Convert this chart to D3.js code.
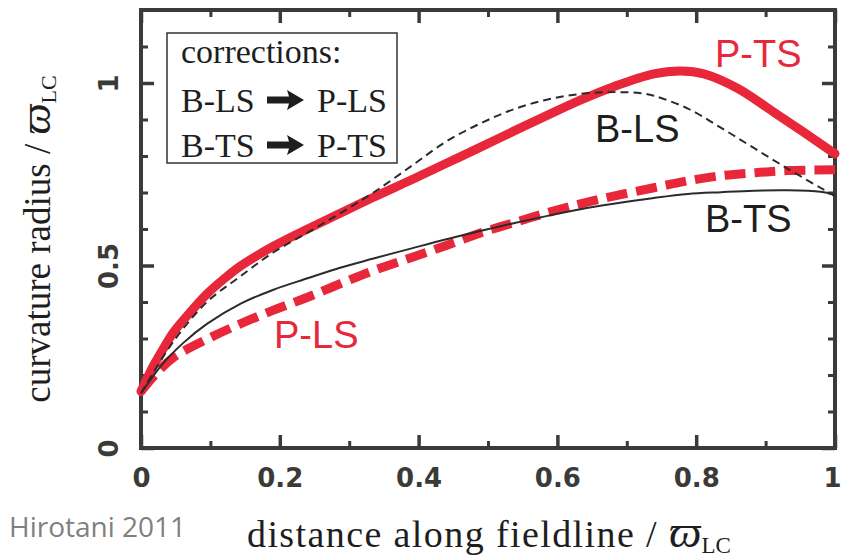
<!DOCTYPE html>
<html>
<head>
<meta charset="utf-8">
<script src="https://cdn.jsdelivr.net/npm/d3@7"></script>
<style>
  html, body { margin: 0; padding: 0; background: #fff; }
  svg { display: block; }
</style>
</head>
<body>
<svg id="chart" width="843" height="558"></svg>
<script>
// Curvature radius along the fieldline for four field geometries
const ptsX = [0, 0.015, 0.03, 0.046, 0.07, 0.095, 0.12, 0.143, 0.19, 0.24, 0.287, 0.335, 0.39, 0.44, 0.49, 0.537, 0.586, 0.633, 0.681, 0.739, 0.778, 0.811, 0.86, 0.908, 0.955, 1.0];
const ptsY = [0.155, 0.215, 0.265, 0.315, 0.37, 0.422, 0.464, 0.498, 0.552, 0.60, 0.643, 0.687, 0.735, 0.78, 0.825, 0.868, 0.912, 0.953, 0.99, 1.025, 1.033, 1.025, 0.985, 0.925, 0.865, 0.806];

const blsX = [0, 0.046, 0.095, 0.143, 0.19, 0.24, 0.287, 0.335, 0.39, 0.44, 0.49, 0.537, 0.586, 0.633, 0.681, 0.72, 0.739, 0.788, 0.836, 0.883, 0.932, 0.979, 1.0];
const blsY = [0.15, 0.29, 0.40, 0.47, 0.535, 0.59, 0.643, 0.70, 0.773, 0.84, 0.89, 0.928, 0.955, 0.97, 0.975, 0.972, 0.965, 0.93, 0.877, 0.822, 0.765, 0.713, 0.69];

const btsX = [0, 0.03, 0.061, 0.095, 0.143, 0.19, 0.24, 0.287, 0.335, 0.39, 0.44, 0.49, 0.537, 0.586, 0.633, 0.681, 0.739, 0.788, 0.836, 0.883, 0.932, 0.979, 1.0];
const btsY = [0.15, 0.228, 0.288, 0.34, 0.395, 0.433, 0.465, 0.494, 0.519, 0.547, 0.572, 0.595, 0.616, 0.636, 0.654, 0.669, 0.685, 0.696, 0.701, 0.705, 0.706, 0.702, 0.694];

const plsX = [0, 0.02, 0.046, 0.095, 0.143, 0.19, 0.24, 0.287, 0.335, 0.39, 0.44, 0.49, 0.537, 0.586, 0.633, 0.681, 0.739, 0.788, 0.836, 0.883, 0.932, 1.0];
const plsY = [0.155, 0.2, 0.247, 0.298, 0.34, 0.377, 0.413, 0.45, 0.486, 0.522, 0.555, 0.59, 0.617, 0.645, 0.669, 0.69, 0.713, 0.732, 0.746, 0.754, 0.76, 0.762];

const xMajorTicks = [0, 0.2, 0.4, 0.6, 0.8, 1];
const xMinorTicks = [0.1, 0.3, 0.5, 0.7, 0.9];
const yMajorTicks = [0, 0.5, 1];
const yMinorTicks = [0.1, 0.2, 0.3, 0.4, 0.6, 0.7, 0.8, 0.9, 1.1];

const RED = "#e8283a";
const INK = "#3a3a38";

const svg = d3.select("#chart");
const plotLeft = 141, plotRight = 835, plotTop = 10, plotBottom = 448;

const x = d3.scaleLinear().domain([0, 1]).range([plotLeft, plotRight]);
const y = d3.scaleLinear().domain([0, 1.2]).range([plotBottom, plotTop]);

const fmt = d3.format("~g");

// ticks on all four sides, pointing inward
function styleAxis(g, width) {
  g.select(".domain").remove();
  g.selectAll(".tick line").attr("stroke", INK).attr("stroke-width", width);
}

svg.append("g").attr("transform", `translate(0,${plotBottom})`)
  .call(d3.axisBottom(x).tickValues(xMinorTicks).tickSize(-7).tickFormat(""))
  .call(g => styleAxis(g, 3));
const xAx = svg.append("g").attr("transform", `translate(0,${plotBottom})`)
  .call(d3.axisBottom(x).tickValues(xMajorTicks).tickSize(-13).tickPadding(0).tickFormat(fmt))
  .call(g => styleAxis(g, 3.5));
xAx.selectAll("text")
  .attr("y", 39).attr("dy", 0)
  .attr("fill", INK)
  .style("font-family", "'DejaVu Sans', sans-serif")
  .style("font-weight", "bold")
  .style("font-size", "26px");
xAx.selectAll(".tick").filter(d => d === 1).select("text").attr("x", -3);

svg.append("g").attr("transform", `translate(0,${plotTop})`)
  .call(d3.axisTop(x).tickValues(xMinorTicks).tickSize(-7).tickFormat(""))
  .call(g => styleAxis(g, 3));
svg.append("g").attr("transform", `translate(0,${plotTop})`)
  .call(d3.axisTop(x).tickValues(xMajorTicks).tickSize(-13).tickFormat(""))
  .call(g => styleAxis(g, 3.5));

svg.append("g").attr("transform", `translate(${plotLeft},0)`)
  .call(d3.axisLeft(y).tickValues(yMinorTicks).tickSize(-7).tickFormat(""))
  .call(g => styleAxis(g, 3));
const yAx = svg.append("g").attr("transform", `translate(${plotLeft},0)`)
  .call(d3.axisLeft(y).tickValues(yMajorTicks).tickSize(-13).tickFormat(fmt))
  .call(g => styleAxis(g, 3.5));
yAx.selectAll("text")
  .attr("x", 0).attr("y", 0).attr("dy", 0)
  .attr("transform", "translate(-23,0) rotate(-90)")
  .attr("text-anchor", "middle")
  .attr("fill", INK)
  .style("font-family", "'DejaVu Sans', sans-serif")
  .style("font-weight", "bold")
  .style("font-size", "26px");

svg.append("g").attr("transform", `translate(${plotRight},0)`)
  .call(d3.axisRight(y).tickValues(yMinorTicks).tickSize(-7).tickFormat(""))
  .call(g => styleAxis(g, 3));
svg.append("g").attr("transform", `translate(${plotRight},0)`)
  .call(d3.axisRight(y).tickValues(yMajorTicks).tickSize(-13).tickFormat(""))
  .call(g => styleAxis(g, 3.5));

// frame
svg.append("rect")
  .attr("x", plotLeft).attr("y", plotTop)
  .attr("width", plotRight - plotLeft).attr("height", plotBottom - plotTop)
  .attr("fill", "none").attr("stroke", INK).attr("stroke-width", 4);

// curves
const line = d3.line().x(d => x(d[0])).y(d => y(d[1])).curve(d3.curveCatmullRom.alpha(0.5));
const zip = (xs, ys) => xs.map((v, i) => [v, ys[i]]);

const plot = svg.append("g");
plot.append("path").datum(zip(plsX, plsY))
  .attr("d", line).attr("fill", "none")
  .attr("stroke", RED).attr("stroke-width", 9)
  .attr("stroke-dasharray", "21,9");
plot.append("path").datum(zip(ptsX, ptsY))
  .attr("d", line).attr("fill", "none")
  .attr("stroke", RED).attr("stroke-width", 9)
  .attr("stroke-linecap", "round");
plot.append("path").datum(zip(btsX, btsY))
  .attr("d", line).attr("fill", "none")
  .attr("stroke", "#2b2b2b").attr("stroke-width", 2);
plot.append("path").datum(zip(blsX, blsY))
  .attr("d", line).attr("fill", "none")
  .attr("stroke", "#2b2b2b").attr("stroke-width", 2)
  .attr("stroke-dasharray", "8,5");

// curve labels
const lab = (tx, ty, s, c) => svg.append("text")
  .attr("x", tx).attr("y", ty).attr("fill", c)
  .style("font-family", "'Liberation Sans', Arial, sans-serif")
  .style("font-size", "38px")
  .text(s);
lab(715, 67, "P-TS", RED);
lab(595, 142, "B-LS", "#1e1e1e");
lab(705, 232, "B-TS", "#1e1e1e");
lab(274, 348, "P-LS", RED);

// corrections box
const box = svg.append("g");
box.append("rect")
  .attr("x", 167).attr("y", 33).attr("width", 230).attr("height", 130)
  .attr("fill", "#fff").attr("stroke", "#333").attr("stroke-width", 1.5);
const serif = "'Liberation Serif', 'Times New Roman', serif";
const btxt = (tx, ty, s) => box.append("text")
  .attr("x", tx).attr("y", ty).attr("fill", "#1e1e1e")
  .style("font-family", serif).style("font-size", "34px")
  .text(s);
btxt(181, 63, "corrections:");
btxt(181, 112, "B-LS");
btxt(317, 112, "P-LS");
btxt(181, 157, "B-TS");
btxt(317, 157, "P-TS");
const arrow = (cy) => box.append("path")
  .attr("d", `M267,${cy - 3.5} L289,${cy - 3.5} L287,${cy - 10} L304,${cy} L287,${cy + 10} L289,${cy + 3.5} L267,${cy + 3.5} Z`)
  .attr("fill", "#1e1e1e");
arrow(100);
arrow(145);

// axis titles
const xt = svg.append("text")
  .attr("x", 247).attr("y", 547).attr("fill", "#1e1e1e")
  .style("font-family", serif).style("font-size", "38px");
xt.append("tspan").style("letter-spacing", "1.4px").text("distance along fieldline / ");
xt.append("tspan").style("font-style", "italic").style("font-size", "46px").text("ϖ");
xt.append("tspan").attr("dy", 6).style("font-size", "23px").text("LC");

const yt = svg.append("text")
  .attr("transform", "translate(50,239) rotate(-90)")
  .attr("text-anchor", "middle").attr("fill", "#1e1e1e")
  .style("font-family", serif).style("font-size", "37px");
yt.append("tspan").text("curvature radius / ");
yt.append("tspan").style("font-style", "italic").style("font-size", "44px").text("ϖ");
yt.append("tspan").attr("dy", 6).style("font-size", "22px").text("LC");

// source note
svg.append("text")
  .attr("x", 9).attr("y", 537).attr("fill", "#808080")
  .style("font-family", "'Open Sans', sans-serif").style("font-size", "28px")
  .text("Hirotani 2011");
</script>
</body>
</html>
